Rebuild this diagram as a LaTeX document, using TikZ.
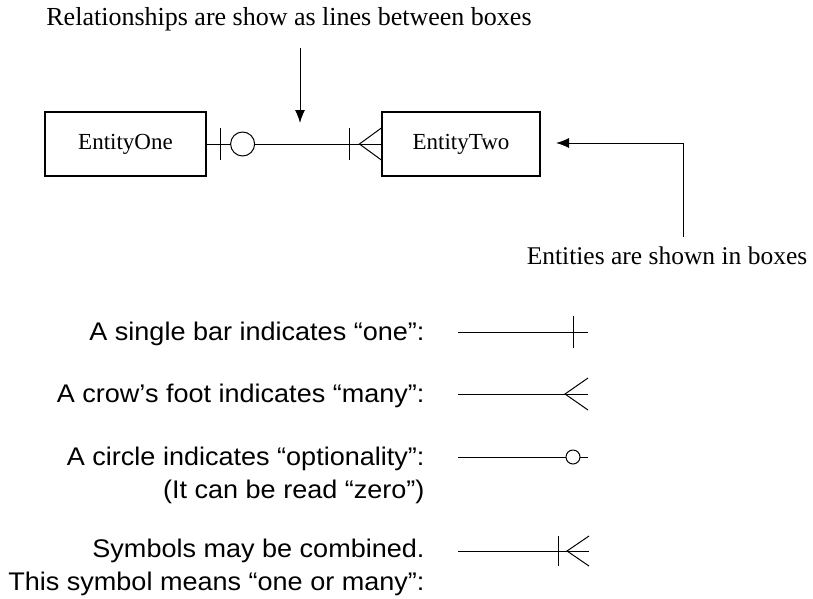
\documentclass[tikz,border=0pt]{standalone}
\usepackage{fontspec}
\setmainfont{Liberation Serif}
\setsansfont{Liberation Sans}[FakeStretch=1.06]
\usetikzlibrary{arrows.meta,positioning}

\begin{document}
\begin{tikzpicture}[x=1pt, y=-1pt,
    entity/.style={draw, line width=1.2pt, minimum height=64pt,
      inner sep=0pt, font=\fontsize{23}{26}\selectfont},
    note/.style={font=\fontsize{26}{30}\selectfont},
    legend/.style={font=\sffamily\fontsize{25.5}{33}\selectfont, align=right, anchor=east},
    rel/.style={line width=1pt},
    pointer/.style={line width=1pt, -{Latex[length=13pt, width=10pt]}}]
  \useasboundingbox (0,0) rectangle (813,598);

  % entities and the relationship line
  \node[entity, minimum width=161pt] (one) at (125.5,144) {EntityOne};
  \node[entity, minimum width=158pt] (two) at (461,144) {EntityTwo};
  \draw[rel] (one.east) -- (two.west);
  % zero-or-one end
  \draw[rel] ([xshift=14pt, yshift=-16pt]one.east) -- ([xshift=14pt, yshift=16pt]one.east);
  \draw[rel, fill=white] ([xshift=36pt]one.east) circle[radius=12pt];
  % one-or-many end
  \coordinate (crow) at ([xshift=-22pt]two.west);
  \draw[rel] ([xshift=-32pt, yshift=-16pt]two.west) -- ([xshift=-32pt, yshift=16pt]two.west);
  \draw[rel] ([yshift=-16pt]two.west) -- (crow) -- ([yshift=16pt]two.west);

  % notes with their pointers
  \node[note] (relnote) at (289,19) {Relationships are show as lines between boxes};
  \coordinate (reltail) at (300,48);
  \coordinate (reltip) at (300,123);
  \draw[pointer] (reltail) -- (reltip);

  \node[note, font=\fontsize{25.5}{30}\selectfont] (entnote) at (667,256) {Entities are shown in boxes};
  \coordinate (entfoot) at (683,237);
  \coordinate (entelbow) at (683,143);
  \coordinate (enttip) at (556,143);
  \draw[pointer] (entfoot) -- (entelbow) -- (enttip);

  % legend
  \node[legend] (lbar) at (428,334) {A single bar indicates “one”:};
  \node[legend] (lcrow) at (428,396) {A crow’s foot indicates “many”:};
  \node[legend] (lcirc) at (428,475) {A circle indicates “optionality”:\\(It can be read “zero”)};
  \node[legend] (lboth) at (428,567) {Symbols may be combined.\\This symbol means “one or many”:};

  \coordinate (bar0) at (458,332);  \coordinate (bar1) at (588,332);
  \draw[rel] (bar0) -- (bar1);
  \draw[rel] ([xshift=-15pt, yshift=-16pt]bar1) -- ([xshift=-15pt, yshift=16pt]bar1);

  \coordinate (crow0) at (458,394); \coordinate (crow1) at (588,394);
  \draw[rel] (crow0) -- (crow1);
  \draw[rel] ([yshift=-16pt]crow1) -- ([xshift=-23pt]crow1) -- ([yshift=16pt]crow1);

  \coordinate (circ0) at (458,457); \coordinate (circ1) at (588,457);
  \draw[rel] (circ0) -- (circ1);
  \draw[rel, fill=white] ([xshift=-15pt]circ1) circle[radius=7pt];

  \coordinate (both0) at (458,551); \coordinate (both1) at (589,551);
  \draw[rel] (both0) -- (both1);
  \draw[rel] ([xshift=-31pt, yshift=-15pt]both1) -- ([xshift=-31pt, yshift=15pt]both1);
  \draw[rel] ([yshift=-15pt]both1) -- ([xshift=-22pt]both1) -- ([yshift=15pt]both1);
\end{tikzpicture}
\end{document}
